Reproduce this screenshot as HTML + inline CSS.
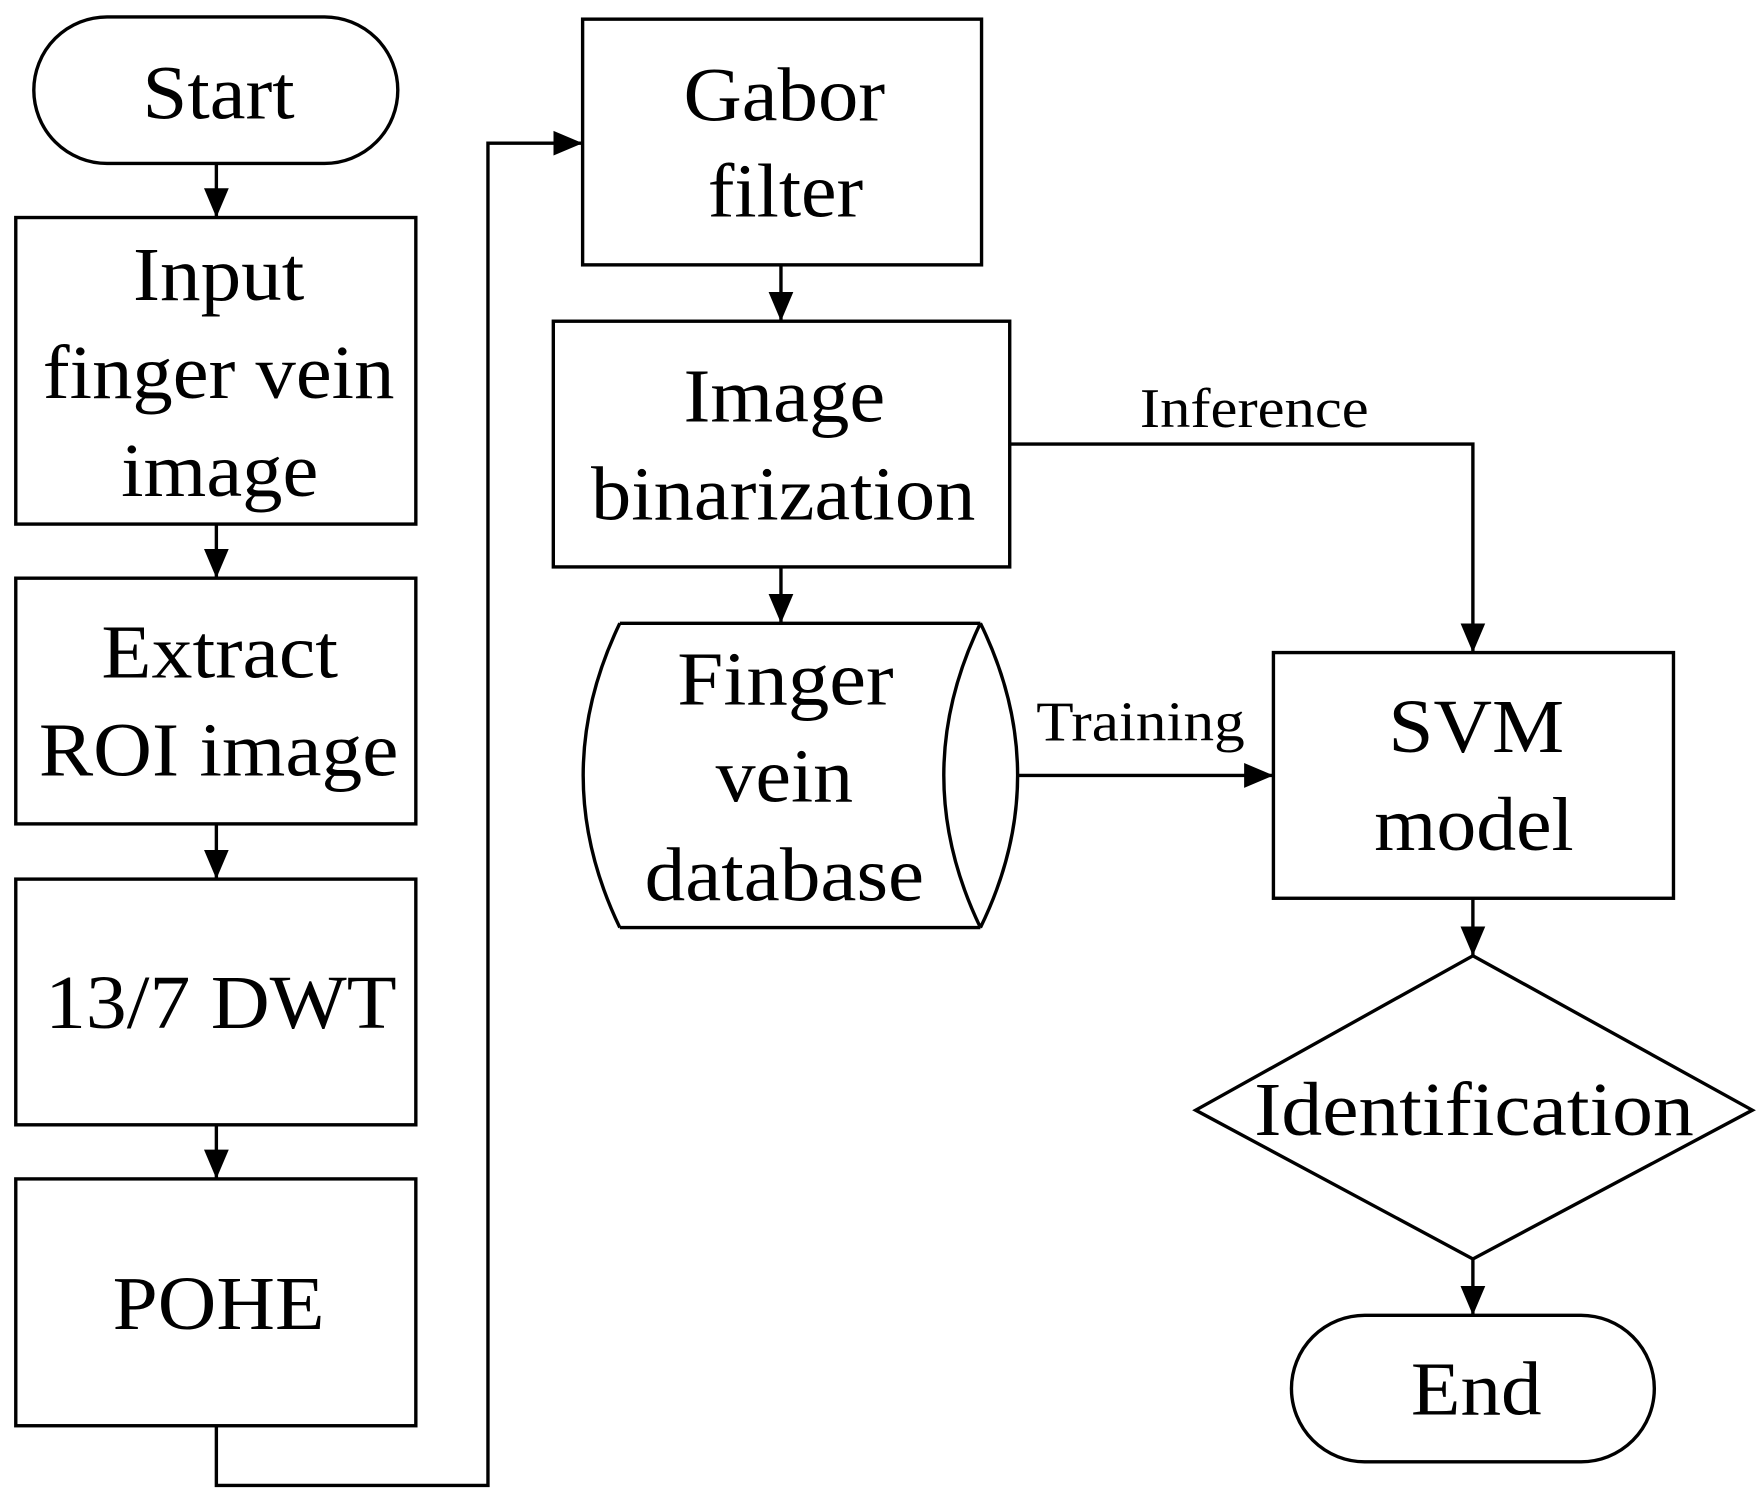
<!DOCTYPE html>
<html><head><meta charset="utf-8"><style>html,body{margin:0;padding:0;background:#fff}svg{display:block}</style></head>
<body>
<svg width="1758" height="1499" viewBox="0 0 1560 1330" preserveAspectRatio="none" xmlns="http://www.w3.org/2000/svg">
<defs><marker id="a" markerWidth="26" markerHeight="22" refX="26" refY="11" orient="auto" markerUnits="userSpaceOnUse" viewBox="0 0 26 22"><path d="M0,0 L26,11 L0,22 z" fill="#000"/></marker></defs>
<g fill="none" stroke="#000" stroke-width="3">
<rect x="30" y="15" width="323" height="130" rx="65"/>
<rect x="14" y="193" width="355" height="272"/>
<rect x="14" y="513" width="355" height="218"/>
<rect x="14" y="780" width="355" height="218"/>
<rect x="14" y="1046" width="355" height="219"/>
<rect x="517" y="17" width="354" height="218"/>
<rect x="491" y="285" width="405" height="218"/>
<path d="M550,553 L870,553 M550,823 L870,823 M550,553 Q485,688 550,823 M870,553 Q936,688 870,823 M870,553 Q805,688 870,823"/>
<rect x="1130" y="579" width="355" height="218"/>
<path d="M1307,848 L1555,985 L1307,1117 L1061,985 Z"/>
<rect x="1146" y="1167" width="322" height="130" rx="65"/>
<path d="M192,145 L192,193" marker-end="url(#a)"/>
<path d="M192,465 L192,513" marker-end="url(#a)"/>
<path d="M192,731 L192,780" marker-end="url(#a)"/>
<path d="M192,998 L192,1046" marker-end="url(#a)"/>
<path d="M192,1265 L192,1318 L433,1318 L433,127 L517,127" marker-end="url(#a)"/>
<path d="M693,235 L693,285" marker-end="url(#a)"/>
<path d="M693,503 L693,553" marker-end="url(#a)"/>
<path d="M896,394 L1307,394 L1307,579" marker-end="url(#a)"/>
<path d="M904,688 L1130,688" marker-end="url(#a)"/>
<path d="M1307,797 L1307,848" marker-end="url(#a)"/>
<path d="M1307,1117 L1307,1167" marker-end="url(#a)"/>
</g>
<g font-family="Liberation Serif, serif" font-size="68" text-anchor="middle">
<text x="194" y="105" textLength="135" lengthAdjust="spacingAndGlyphs">Start</text>
<text x="194" y="266" textLength="152" lengthAdjust="spacingAndGlyphs">Input</text>
<text x="194" y="353" textLength="312" lengthAdjust="spacingAndGlyphs">finger vein</text>
<text x="195" y="440" textLength="175" lengthAdjust="spacingAndGlyphs">image</text>
<text x="195" y="601" textLength="210" lengthAdjust="spacingAndGlyphs">Extract</text>
<text x="194" y="688" textLength="319" lengthAdjust="spacingAndGlyphs">ROI image</text>
<text x="196" y="912" textLength="312" lengthAdjust="spacingAndGlyphs">13/7 DWT</text>
<text x="194" y="1179" textLength="188" lengthAdjust="spacingAndGlyphs">POHE</text>
<text x="696" y="107" textLength="179" lengthAdjust="spacingAndGlyphs">Gabor</text>
<text x="697" y="192" textLength="138" lengthAdjust="spacingAndGlyphs">filter</text>
<text x="696" y="374" textLength="179" lengthAdjust="spacingAndGlyphs">Image</text>
<text x="695" y="461" textLength="341" lengthAdjust="spacingAndGlyphs">binarization</text>
<text x="697" y="625" textLength="192" lengthAdjust="spacingAndGlyphs">Finger</text>
<text x="696" y="711" textLength="122" lengthAdjust="spacingAndGlyphs">vein</text>
<text x="696" y="799" textLength="248" lengthAdjust="spacingAndGlyphs">database</text>
<text x="1310" y="667" textLength="156" lengthAdjust="spacingAndGlyphs">SVM</text>
<text x="1308" y="754" textLength="177" lengthAdjust="spacingAndGlyphs">model</text>
<text x="1308" y="1007" textLength="390" lengthAdjust="spacingAndGlyphs">Identification</text>
<text x="1310" y="1255" textLength="116" lengthAdjust="spacingAndGlyphs">End</text>
<text x="1113" y="379" font-size="50" textLength="203" lengthAdjust="spacingAndGlyphs">Inference</text>
<text x="1012" y="657" font-size="50" textLength="185" lengthAdjust="spacingAndGlyphs">Training</text>
</g>
</svg>
</body></html>
